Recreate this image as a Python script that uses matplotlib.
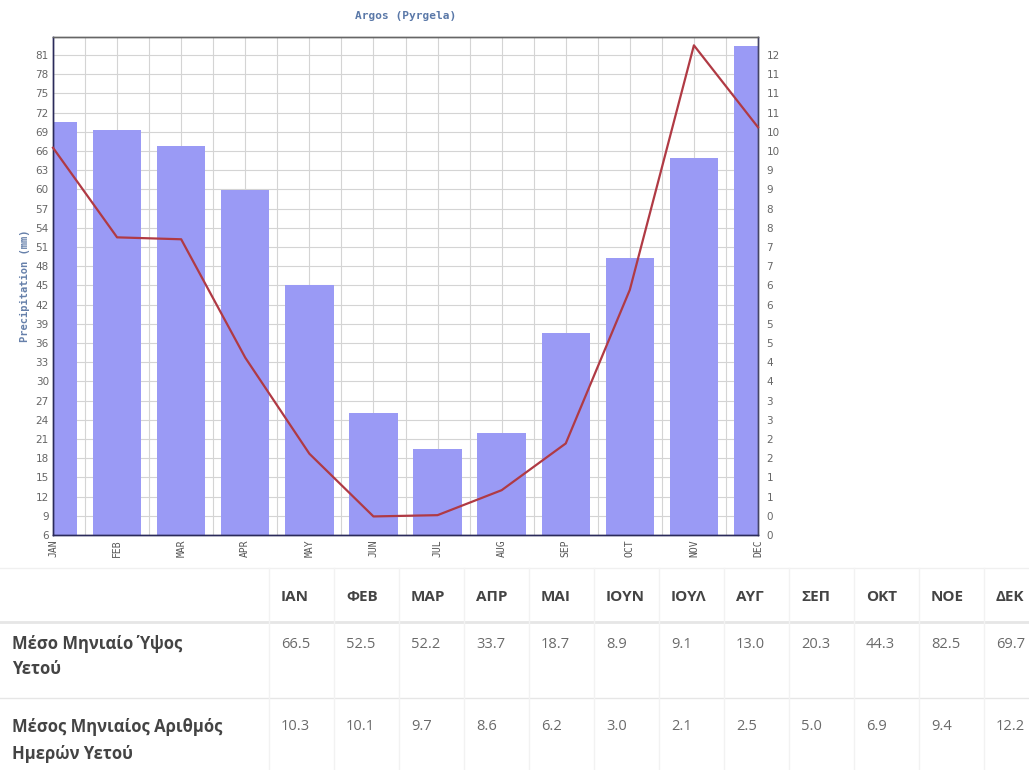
import matplotlib
matplotlib.use("Agg")
import matplotlib.pyplot as plt
from matplotlib.lines import Line2D
import numpy as np

# ---------------- data ----------------
months_en = ["JAN", "FEB", "MAR", "APR", "MAY", "JUN", "JUL", "AUG", "SEP", "OCT", "NOV", "DEC"]
months_gr = ["ΙΑΝ", "ΦΕΒ", "ΜΑΡ", "ΑΠΡ", "ΜΑΙ", "ΙΟΥΝ", "ΙΟΥΛ", "ΑΥΓ", "ΣΕΠ", "ΟΚΤ", "ΝΟΕ", "ΔΕΚ"]
precip_mm = [66.5, 52.5, 52.2, 33.7, 18.7, 8.9, 9.1, 13.0, 20.3, 44.3, 82.5, 69.7]
rain_days = [10.3, 10.1, 9.7, 8.6, 6.2, 3.0, 2.1, 2.5, 5.0, 6.9, 9.4, 12.2]
precip_str = ["66.5", "52.5", "52.2", "33.7", "18.7", "8.9", "9.1", "13.0", "20.3", "44.3", "82.5", "69.7"]
days_str = ["10.3", "10.1", "9.7", "8.6", "6.2", "3.0", "2.1", "2.5", "5.0", "6.9", "9.4", "12.2"]
left_ticks = list(range(6, 82, 3))
right_tick_labels = ["0", "0", "1", "1", "2", "2", "3", "3", "4", "4", "5", "5", "6", "6",
                     "7", "7", "8", "8", "9", "9", "10", "10", "11", "11", "11", "12"]
title = "Argos (Pyrgela)"
ylabel = "Precipitation (mm)"
row_labels = [["Μέσο Μηνιαίο Ύψος", "Υετού"], ["Μέσος Μηνιαίος Αριθμός", "Ημερών Υετού"]]

# ---------------- figure ----------------
W, H = 1029, 770
fig = plt.figure(figsize=(W / 100, H / 100), dpi=100)
fig.patch.set_facecolor("white")

def fx(px):
    return px / W

def fy(py):
    return 1 - py / H

L, R, T, B = 53, 758, 37, 535
ax = fig.add_axes([fx(L), fy(B), fx(R) - fx(L), fy(T) - fy(B)])
ax2 = ax.twinx()

# scales: mm axis (left) and rain-days axis (right) are linked linearly
mm_lo, mm_hi = 6, 83.8
a_off, d_step = -0.05, 0.481  # rain-days value at 6mm, and per 3 mm
def mm_to_days(v):
    return a_off + (v - 6) / 3.0 * d_step

x = np.arange(len(months_en))
days_lo = mm_to_days(mm_lo)

# primary axes: bars (rain days), ticks on right; bars rise from the axis floor
ax.bar(x, np.array(rain_days) - days_lo, bottom=days_lo, width=0.755,
       color="#9a9af5", zorder=2)
ax.set_ylim(days_lo, mm_to_days(mm_hi))
ax.set_xlim(0, 11)
right_ticks = [mm_to_days(v) for v in left_ticks]
ax.set_yticks(right_ticks)
ax.set_yticklabels(right_tick_labels)
ax.yaxis.tick_right()
ax.set_xticks(x)
ax.set_xticklabels(months_en, rotation=90, fontsize=7, color="#555555",
                   family="DejaVu Sans Mono")
ax.set_xticks(np.arange(0.5, 11, 1.0), minor=True)
ax.grid(True, which="major", axis="y", color="#d4d4d4", linewidth=0.8, zorder=0)
ax.grid(True, which="both", axis="x", color="#d4d4d4", linewidth=0.8, zorder=0)
ax.set_axisbelow(True)
ax.tick_params(axis="y", which="major", labelsize=7.5, labelcolor="#666666", length=0, pad=6)
ax.tick_params(axis="x", which="both", length=0, pad=3)

# secondary axes: precipitation line, ticks on left
ax2.plot(x, precip_mm, color="#b03a44", linewidth=1.6, zorder=5, clip_on=False)
ax2.set_ylim(mm_lo, mm_hi)
ax2.set_yticks(left_ticks)
ax2.yaxis.tick_left()
ax2.yaxis.set_label_position("left")
ax2.tick_params(axis="y", labelsize=7.5, labelcolor="#666666", length=0, pad=3)
ax2.set_ylabel(ylabel, family="DejaVu Sans Mono", fontweight="bold", fontsize=7.5,
               color="#6680aa", labelpad=4)
ax2.patch.set_visible(False)

for a_ in (ax, ax2):
    a_.spines["left"].set_color("#2a2a5a")
    a_.spines["bottom"].set_color("#2a2a5a")
    a_.spines["top"].set_color("#666666")
    a_.spines["right"].set_color("#444466")
    for s in a_.spines.values():
        s.set_linewidth(1.0)

fig.text(fx((L + R) / 2), fy(16), title, ha="center", va="center",
         family="DejaVu Sans Mono", fontweight="bold", fontsize=8, color="#5a78a8")

# ---------------- table ----------------
col_x = [281 + 65 * i for i in range(12)]
line_c = "#e6e6e6"
fig.add_artist(Line2D([0, 1], [fy(568), fy(568)], color="#f0f0f0", linewidth=1.0,
                      transform=fig.transFigure))
fig.add_artist(Line2D([0, 1], [fy(622), fy(622)], color=line_c, linewidth=2.0,
                      transform=fig.transFigure))
fig.add_artist(Line2D([0, 1], [fy(698), fy(698)], color=line_c, linewidth=1.0,
                      transform=fig.transFigure))
for cx in col_x:
    fig.add_artist(Line2D([fx(cx - 12), fx(cx - 12)], [fy(568), 0], color="#f2f2f2",
                          linewidth=1.0, transform=fig.transFigure))

tfont = ["Open Sans", "DejaVu Sans"]
for i, m in enumerate(months_gr):
    fig.text(fx(col_x[i]), fy(597), m, ha="left", va="center", family=tfont,
             fontweight="bold", fontsize=11, color="#444444")
    fig.text(fx(col_x[i]), fy(644), precip_str[i], ha="left", va="center", family=tfont,
             fontsize=10.5, color="#6a6a6a")
    fig.text(fx(col_x[i]), fy(727), days_str[i], ha="left", va="center", family=tfont,
             fontsize=10.5, color="#6a6a6a")

for (ty, txt) in [(644, row_labels[0][0]), (669, row_labels[0][1]),
                  (727, row_labels[1][0]), (754, row_labels[1][1])]:
    fig.text(fx(12), fy(ty), txt, ha="left", va="center", family=tfont,
             fontweight="bold", fontsize=12, color="#444444")

fig.savefig("out.png", dpi=100, facecolor="white")
